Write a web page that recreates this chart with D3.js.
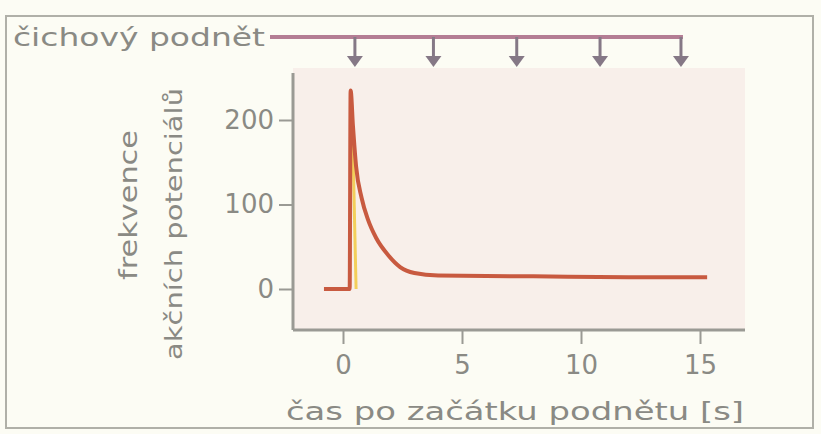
<!DOCTYPE html>
<html>
<head>
<meta charset="utf-8">
<script src="https://cdn.jsdelivr.net/npm/d3@7"></script>
<style>
  body { margin: 0; background: #fcfcf4; }
  text { font-family: "DejaVu Sans", sans-serif; fill: #8a8a84; }
</style>
</head>
<body>
<svg id="chart" width="821" height="434"></svg>
<script>
// firing frequency after odour stimulus onset
let times = [-0.8, 0.28, 0.32, 0.42, 0.55, 0.78, 1.05, 1.4, 1.9, 2.4, 3.0, 4.0, 8.0, 12.0, 15.3];
let freq = [0, 0, 235, 192, 145, 108, 82, 60, 40, 26, 19, 16, 15, 14, 14];
// thin yellow trace next to the rising edge
let rise_times = [0.4, 0.55];
let rise_freq = [190, 0];
// moments of the odour stimuli (arrows)
let stim_times = [0.5, 3.8, 7.3, 10.8, 14.2];
let x_ticks = [0, 5, 10, 15];
let y_ticks = [0, 100, 200];

let svg = d3.select('#chart');
let text_color = '#8a8a84';
let axis_color = '#9a9a94';
let font = '"DejaVu Sans", sans-serif';

let x = d3.scaleLinear().domain([0, 15]).range([343, 700]);
let y = d3.scaleLinear().domain([0, 200]).range([289, 120]);

let plot = {left: 293, right: 745, top: 68, bottom: 330};

// outer frame
svg.append('rect')
	.attr('x', 6).attr('y', 16)
	.attr('width', 807).attr('height', 412)
	.attr('fill', 'none')
	.attr('stroke', '#b0b0a8')
	.attr('stroke-width', 2);

// plot background
svg.append('rect')
	.attr('x', plot.left).attr('y', plot.top)
	.attr('width', plot.right - plot.left)
	.attr('height', plot.bottom - plot.top)
	.attr('fill', '#f8efea');

// stimulus line with arrows
let stim_y = 37;
svg.append('text')
	.attr('x', 13).attr('y', stim_y + 9)
	.attr('font-size', 25)
	.attr('textLength', 252)
	.attr('lengthAdjust', 'spacingAndGlyphs')
	.text('čichový podnět');

svg.append('line')
	.attr('x1', 270).attr('x2', x(stim_times[stim_times.length - 1]) + 2)
	.attr('y1', stim_y).attr('y2', stim_y)
	.attr('stroke', '#b47d94')
	.attr('stroke-width', 4);

let arrows = svg.selectAll('.stim')
	.data(stim_times)
	.enter().append('g')
	.attr('class', 'stim')
	.attr('transform', d => `translate(${x(d)}, ${stim_y})`);

arrows.append('line')
	.attr('y1', 0).attr('y2', 22)
	.attr('stroke', '#857886')
	.attr('stroke-width', 3);

arrows.append('path')
	.attr('d', 'M-8,19 L8,19 L0,30 Z')
	.attr('fill', '#857886');

// axes
let y_axis = svg.append('g')
	.attr('transform', `translate(${plot.left}, 0)`)
	.call(d3.axisLeft(y).tickValues(y_ticks).tickSize(14).tickPadding(5));
y_axis.select('.domain').remove();
y_axis.selectAll('line').attr('stroke', axis_color).attr('stroke-width', 2);
y_axis.selectAll('text')
	.attr('font-size', 26)
	.attr('fill', text_color)
	.attr('font-family', font);

let x_axis = svg.append('g')
	.attr('transform', `translate(0, ${plot.bottom})`)
	.call(d3.axisBottom(x).tickValues(x_ticks).tickSize(14).tickPadding(12));
x_axis.select('.domain').remove();
x_axis.selectAll('line').attr('stroke', axis_color).attr('stroke-width', 2);
x_axis.selectAll('text')
	.attr('font-size', 26)
	.attr('fill', text_color)
	.attr('font-family', font);

svg.append('line')
	.attr('x1', plot.left).attr('x2', plot.left)
	.attr('y1', 73).attr('y2', plot.bottom)
	.attr('stroke', axis_color).attr('stroke-width', 3);
svg.append('line')
	.attr('x1', plot.left).attr('x2', plot.right)
	.attr('y1', plot.bottom).attr('y2', plot.bottom)
	.attr('stroke', axis_color).attr('stroke-width', 3);

// axis titles
svg.append('text')
	.attr('transform', 'translate(137, 205) rotate(-90)')
	.attr('text-anchor', 'middle')
	.attr('font-size', 25)
	.attr('textLength', 150)
	.attr('lengthAdjust', 'spacingAndGlyphs')
	.text('frekvence');
svg.append('text')
	.attr('transform', 'translate(182, 224) rotate(-90)')
	.attr('text-anchor', 'middle')
	.attr('font-size', 23)
	.attr('textLength', 272)
	.attr('lengthAdjust', 'spacingAndGlyphs')
	.text('akčních potenciálů');

svg.append('text')
	.attr('x', 515).attr('y', 420)
	.attr('text-anchor', 'middle')
	.attr('font-size', 25)
	.attr('textLength', 458)
	.attr('lengthAdjust', 'spacingAndGlyphs')
	.text('čas po začátku podnětu [s]');

// curves
let line = d3.line()
	.x(d => x(d[0]))
	.y(d => y(d[1]))
	.curve(d3.curveMonotoneX);

svg.append('path')
	.datum(d3.zip(rise_times, rise_freq))
	.attr('d', d3.line().x(d => x(d[0])).y(d => y(d[1])))
	.attr('fill', 'none')
	.attr('stroke', '#f3cf5a')
	.attr('stroke-width', 3);

svg.append('path')
	.datum(d3.zip(times, freq))
	.attr('d', line)
	.attr('fill', 'none')
	.attr('stroke', '#c85a40')
	.attr('stroke-width', 4);
</script>
</body>
</html>
